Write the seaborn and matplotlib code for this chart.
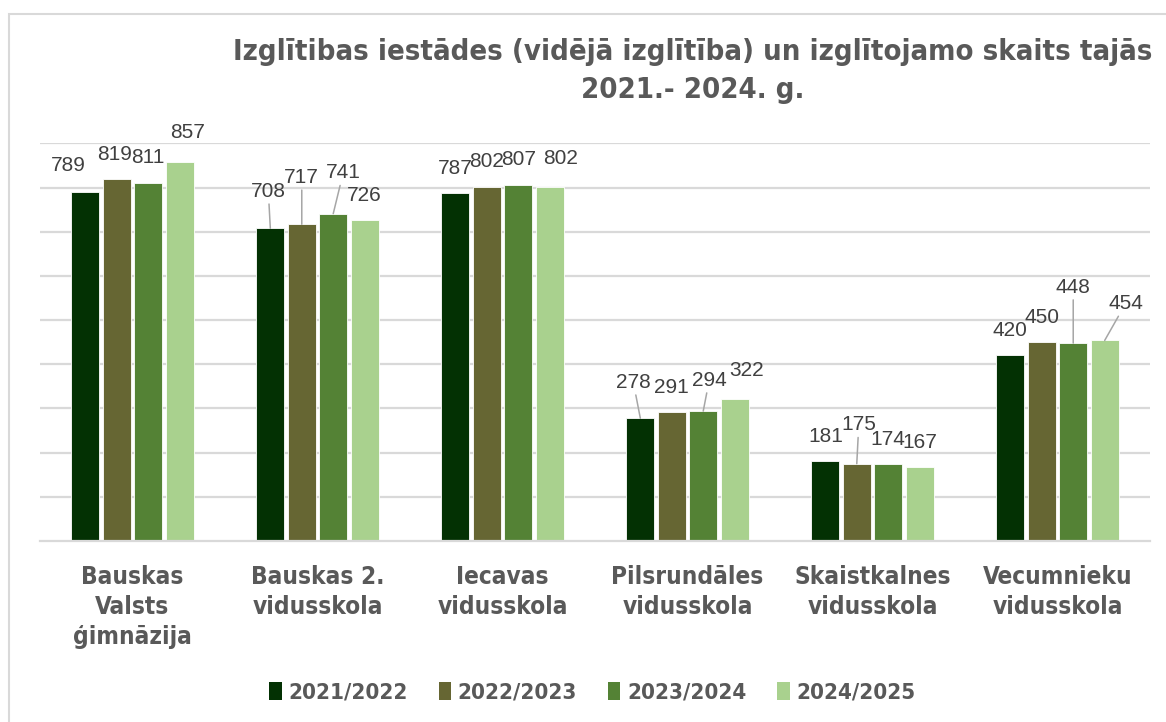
import matplotlib
matplotlib.use("Agg")
import matplotlib.pyplot as plt
from matplotlib.patches import Patch, Rectangle
import pandas as pd
import seaborn as sns

# data
schools = ["Bauskas\nValsts\nģimnāzija", "Bauskas 2.\nvidusskola", "Iecavas\nvidusskola",
           "Pilsrundāles\nvidusskola", "Skaistkalnes\nvidusskola", "Vecumnieku\nvidusskola"]
years = ["2021/2022", "2022/2023", "2023/2024", "2024/2025"]
y2021 = [789, 708, 787, 278, 181, 420]
y2022 = [819, 717, 802, 291, 175, 450]
y2023 = [811, 741, 807, 294, 174, 448]
y2024 = [857, 726, 802, 322, 167, 454]
colors = ["#033103", "#666633", "#548235", "#A9D18E"]

title = "Izglītibas iestādes (vidējā izglītība) un izglītojamo skaits tajās\n2021.- 2024. g."

series = [y2021, y2022, y2023, y2024]
df = pd.DataFrame([
    {"school": s, "year": yr, "count": vals[i]}
    for yr, vals in zip(years, series)
    for i, s in enumerate(schools)
])

sns.set_theme(style="white")
head_font = ["DejaVu Sans"]
label_font = ["Liberation Sans", "DejaVu Sans"]
grey = "#595959"

fig = plt.figure(figsize=(11.66, 7.22), dpi=100)
ax = fig.add_axes([40 / 1166, 1 - 541 / 722, 1110 / 1166, 398 / 722])

sns.barplot(data=df, x="school", y="count", hue="year", palette=colors,
            saturation=1, width=0.68, gap=0.12, edgecolor="white", linewidth=0.6,
            legend=False, ax=ax)

ax.set_ylim(0, 901)
ax.set_xlim(-0.5, len(schools) - 0.5)
ax.set_yticks(range(100, 901, 100))
ax.set_yticklabels([])
ax.yaxis.grid(True, color="#D9D9D9", lw=1.6)
ax.set_axisbelow(True)
for side in ["top", "right", "left"]:
    ax.spines[side].set_visible(False)
ax.spines["bottom"].set_color("#D9D9D9")
ax.spines["bottom"].set_linewidth(1.6)
ax.set_xlabel("")
ax.set_ylabel("")
ax.tick_params(axis="x", length=0, pad=17)
ax.tick_params(axis="y", length=0)
for t in ax.get_xticklabels():
    t.set_fontfamily(head_font)
    t.set_fontstretch("condensed")
    t.set_fontweight("bold")
    t.set_fontsize(17.5)
    t.set_color(grey)
    t.set_linespacing(1.32)

# hand-placed label offsets (pixels) mimicking the reference's label layout
nudges = {
    (0, 0): (-17, 2, False), (0, 1): (-2, 0, False), (0, 3): (8, 5, False),
    (1, 0): (-2, 12, True), (1, 1): (0, 22, True), (1, 2): (10, 16, True),
    (2, 3): (11, 3, False),
    (3, 0): (-7, 11, True), (3, 2): (6, 6, True), (3, 3): (12, 3, False),
    (4, 1): (2, 14, True),
    (5, 2): (0, 31, True), (5, 3): (21, 12, True),
}

for k, cont in enumerate(ax.containers):
    for j, bar in enumerate(cont):
        val = series[k][j]
        dx, dy, leader = nudges.get((j, k), (0, 0, False))
        x = bar.get_x() + bar.get_width() / 2
        props = dict(arrowstyle="-", color="#A6A6A6", lw=1.1, shrinkA=0, shrinkB=0) if leader else None
        ax.annotate(str(val), xy=(x, bar.get_height()), xytext=(dx, 25 + dy),
                    textcoords="offset pixels", ha="center", va="center",
                    fontsize=15, color="#404040", family=label_font,
                    arrowprops=props, annotation_clip=False)

fig.text(0.594, 1 - 38 / 722, title, ha="center", va="top", fontsize=21,
         fontweight="bold", fontstretch="condensed", color=grey, family=head_font,
         linespacing=1.45)

handles = [Patch(facecolor=c, edgecolor="none", label=y) for c, y in zip(colors, years)]
leg = fig.legend(handles=handles, loc="center", bbox_to_anchor=(0.508, 1 - 692 / 722),
                 ncol=4, frameon=False, handlelength=0.55, handleheight=0.9,
                 handletextpad=0.3, columnspacing=1.4,
                 prop={"family": head_font, "weight": "bold", "size": 16,
                       "stretch": "condensed"})
for t in leg.get_texts():
    t.set_color(grey)

# light outer chart border, cut off at the right and bottom like the reference
fig.patches.append(Rectangle((9 / 1166, -0.1), 1.2, 1.1 - 14 / 722, transform=fig.transFigure,
                             fill=False, edgecolor="#D9D9D9", lw=1.5))

fig.savefig("out.png", dpi=100, facecolor="white")
